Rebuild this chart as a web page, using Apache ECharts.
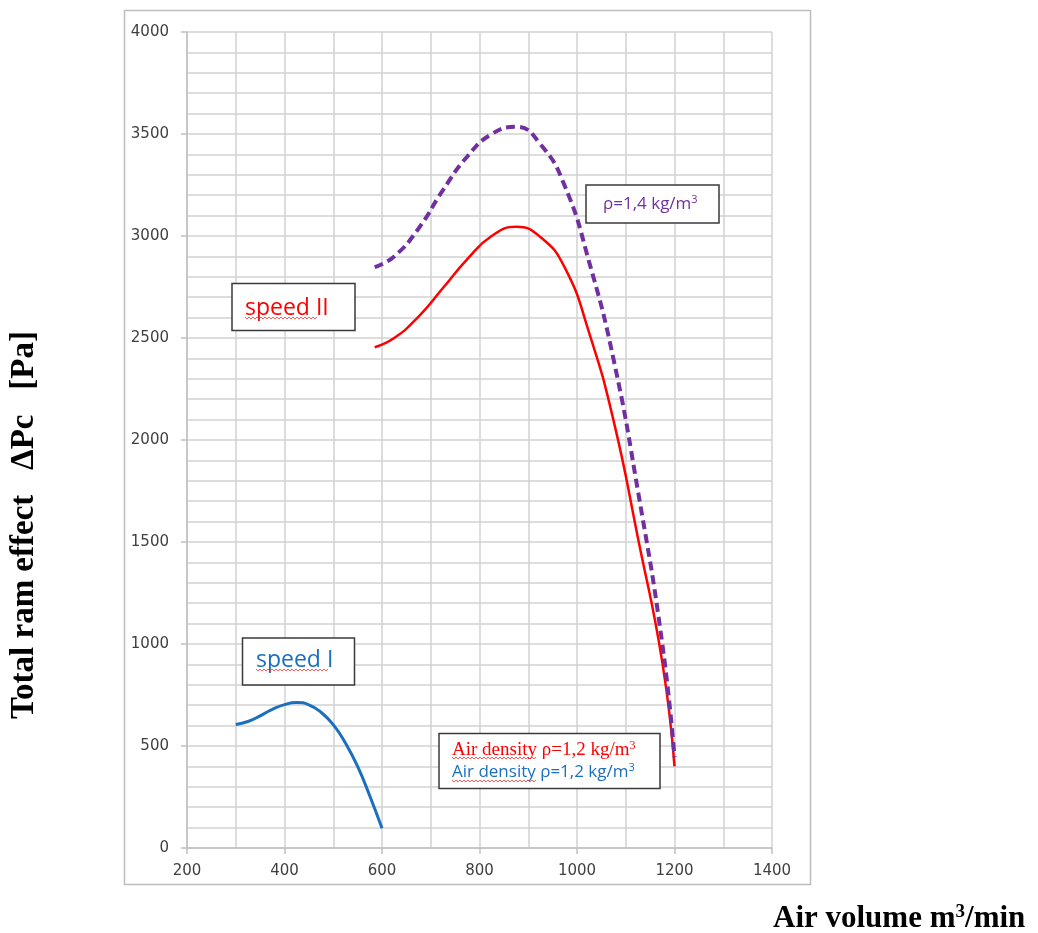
<!DOCTYPE html>
<html>
<head>
<meta charset="utf-8">
<script src="https://cdn.jsdelivr.net/npm/echarts@6/dist/echarts.min.js"></script>
<style>
html,body{margin:0;padding:0;background:#fff;}
#chart{width:1038px;height:933px;}
</style>
</head>
<body>
<div id="chart"></div>
<script>
// Data: [air volume m3/min, total ram effect Pa]
const speedI_rho12 = [[300,605],[325,620],[350,648],[375,680],[400,703],[425,713],[450,702],[475,665],[500,605],[525,515],[550,400],[575,255],[600,97]];
const speedII_rho12 = [[585,2455],[625,2500],[675,2605],[725,2745],[775,2887],[825,3000],[875,3045],[925,2995],[975,2845],[1025,2525],[1075,2095],[1125,1520],[1175,910],[1200,400]];
const speedII_rho14 = [[585,2847],[625,2900],[675,3037],[725,3225],[775,3390],[825,3500],[875,3535],[925,3450],[975,3245],[1025,2872],[1075,2395],[1125,1750],[1175,1000],[1200,445]];

const xMin = 200, xMax = 1400, xStep = 200;
const yMin = 0, yMax = 4000, yStep = 500;

const chart = echarts.init(document.getElementById('chart'));
const gridCol = '#d2d2d2';
const labelFont = {color:'#404040', fontSize:15, fontFamily:'DejaVu Sans'};

function box(x, y, w, h) {
  return {type:'rect', shape:{x:x, y:y, width:w, height:h}, style:{fill:'#fff', stroke:'#3a3a3a', lineWidth:1.5}, z:10};
}
function label(x, y, text, color, size, family) {
  return {type:'text', x:x, y:y, style:{text:text, fill:color, font: size + 'px "' + family + '"', textVerticalAlign:'middle'}, z:11};
}
function squiggle(x0, x1, y) {
  const pts = [];
  let up = true;
  for (let x = x0; x <= x1; x += 2) { pts.push([x, up ? y - 1 : y + 1]); up = !up; }
  return {type:'polyline', shape:{points:pts}, style:{stroke:'#ff3030', lineWidth:0.8, fill:null}, z:12, silent:true};
}

chart.setOption({
  animation:false,
  grid:{left:187, right:266, top:32, bottom:85, containLabel:false},
  xAxis:{
    type:'value', min:xMin, max:xMax, interval:xStep,
    axisLine:{show:true, lineStyle:{color:'#c0c0c0', width:1.5}},
    axisTick:{show:true, length:6, lineStyle:{color:'#c0c0c0', width:1.5}},
    axisLabel:Object.assign({margin:16, formatter:function(v){return String(v);}}, labelFont),
    splitLine:{show:true, lineStyle:{color:gridCol, width:1.5}},
    minorTick:{show:false, splitNumber:2},
    minorSplitLine:{show:true, lineStyle:{color:gridCol, width:1.5}}
  },
  yAxis:{
    type:'value', min:yMin, max:yMax, interval:yStep,
    axisLine:{show:true, lineStyle:{color:'#c0c0c0', width:1.5}},
    axisTick:{show:true, length:6, lineStyle:{color:'#c0c0c0', width:1.5}},
    axisLabel:Object.assign({margin:18, formatter:function(v){return String(v);}}, labelFont),
    splitLine:{show:true, lineStyle:{color:gridCol, width:1.5}},
    minorTick:{show:false, splitNumber:5},
    minorSplitLine:{show:true, lineStyle:{color:gridCol, width:1.5}}
  },
  series:[
    {type:'line', name:'speed I ρ=1,2', data:speedI_rho12, smooth:0.5, showSymbol:false, lineStyle:{color:'#1a6fbf', width:3}},
    {type:'line', name:'speed II ρ=1,2', data:speedII_rho12, smooth:0.5, showSymbol:false, lineStyle:{color:'#ff0000', width:2.5}},
    {type:'line', name:'speed II ρ=1,4', data:speedII_rho14, smooth:0.5, showSymbol:false, lineStyle:{color:'#7030a0', width:4, type:[9,5]}}
  ],
  graphic:[
    {type:'rect', shape:{x:124.5, y:10.5, width:686, height:874}, style:{fill:null, stroke:'#bdbdbd', lineWidth:1.5}, z:1, silent:true},
    box(232, 283.5, 123, 47),
    label(245, 308, 'speed II', '#ff0000', 23, 'Open Sans'),
    squiggle(245, 317, 318),
    box(242.5, 638, 112, 47),
    label(256, 660, 'speed I', '#1a6fbf', 23, 'Open Sans'),
    squiggle(256, 328, 670),
    box(586, 185, 133, 38),
    {type:'text', x:603, y:204, style:{rich:{a:{fontSize:17, fontFamily:'Open Sans', fill:'#7030a0'}, s:{fontSize:11, fontFamily:'Open Sans', fill:'#7030a0', padding:[0,0,9,0]}}, text:'{a|ρ=1,4 kg/m}{s|3}', textVerticalAlign:'middle'}, z:11},
    box(439, 733.5, 221, 55),
    {type:'text', x:452, y:750, style:{rich:{a:{fontSize:19, fontFamily:'Liberation Serif', fill:'#ff0000'}, s:{fontSize:12, fontFamily:'Liberation Serif', fill:'#ff0000', padding:[0,0,9,0]}}, text:'{a|Air density ρ=1,2 kg/m}{s|3}', textVerticalAlign:'middle'}, z:11},
    squiggle(452, 536, 758),
    {type:'text', x:452, y:772, style:{rich:{a:{fontSize:17, fontFamily:'Open Sans', fill:'#1a6fbf'}, s:{fontSize:11, fontFamily:'Open Sans', fill:'#1a6fbf', padding:[0,0,9,0]}}, text:'{a|Air density ρ=1,2 kg/m}{s|3}', textVerticalAlign:'middle'}, z:11},
    squiggle(452, 536, 781),
    {type:'text', x:24, y:525, rotation:Math.PI/2, style:{text:'Total ram effect   ΔPc   [Pa]', fill:'#000', font:'bold 33px "Liberation Serif"', textAlign:'center', textVerticalAlign:'middle'}, z:11},
    {type:'text', x:773, y:919, style:{rich:{a:{fontSize:31, fontWeight:'bold', fontFamily:'Liberation Serif', fill:'#000'}, s:{fontSize:19, fontWeight:'bold', fontFamily:'Liberation Serif', fill:'#000', padding:[0,0,14,0]}}, text:'{a|Air volume m}{s|3}{a|/min}', textVerticalAlign:'middle'}, z:11}
  ]
});
</script>
</body>
</html>
